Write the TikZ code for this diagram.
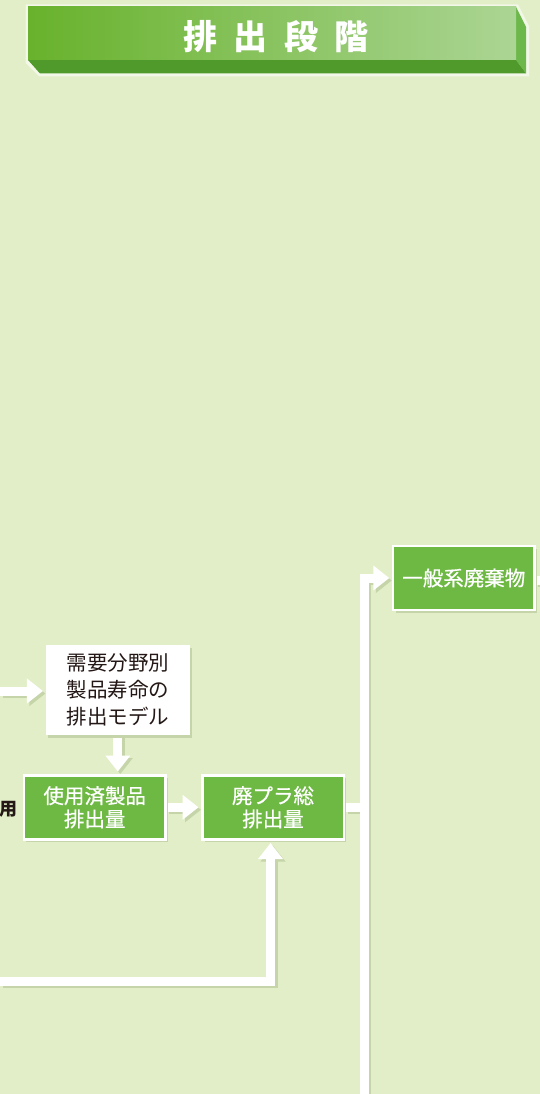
\documentclass[tikz,border=0pt]{standalone}
\usepackage{fontspec}
\newfontfamily\jp{Noto Sans CJK JP}
\newfontfamily\jpm[FakeBold=0.6]{Noto Sans CJK JP}
\usetikzlibrary{arrows.meta,shadows}
\definecolor{bgc}{HTML}{E2EEC7}
\definecolor{boxgreen}{HTML}{6EB844}
\definecolor{shadowc}{HTML}{C6D5A9}
\definecolor{bandL}{HTML}{68B22C}
\definecolor{bandM}{HTML}{78BD44}
\definecolor{bandR}{HTML}{ABD594}
\definecolor{bandBot}{HTML}{4F9A2A}
\definecolor{bandSide}{HTML}{6DB84A}
\definecolor{bandEdge}{HTML}{F2F7E8}
\definecolor{ink}{HTML}{231815}
\pgfdeclarelayer{back}
\pgfdeclarelayer{lines}
\pgfsetlayers{back,lines,main}
\tikzset{
  flow/.style={draw=white,line width=9pt,shorten >=2.5pt,-{Triangle[width=24pt,length=16pt]}},
  link/.style={draw=white,line width=9pt},
  shline/.style={preaction={draw=shadowc,line width=9pt,transform canvas={xshift=2.5pt,yshift=-2.5pt}}},
  gbox/.style={draw=white,line width=2.5pt,fill=boxgreen,inner sep=0pt,
    minimum width=141.5pt,minimum height=64pt,text=white,align=center,
    font=\jpm\fontsize{20.5}{23.3}\selectfont,
    drop shadow={shadow xshift=2.5pt,shadow yshift=-2.5pt,fill=shadowc,opacity=1}},
  wbox/.style={fill=white,inner sep=0pt,minimum width=144.3pt,minimum height=90pt,
    text=ink,align=center,font=\jp\fontsize{20.5}{26.7}\selectfont,
    drop shadow={shadow xshift=2.5pt,shadow yshift=-2.5pt,fill=shadowc,opacity=1}},
  titletext/.style={text=white,inner sep=0pt,font=\jp\bfseries\fontsize{34}{34}\selectfont},
  sidelabel/.style={text=ink,inner sep=0pt,anchor=east,font=\jp\bfseries\fontsize{18}{18}\selectfont}
}
\begin{document}
\begin{tikzpicture}[x=1pt,y=-1pt]
\begin{pgfonlayer}{back}
\fill[bgc] (0,0) rectangle (540,1094);
\end{pgfonlayer}
\useasboundingbox (0,0) rectangle (540,1094);

% title banner
\fill[bandEdge] (25.5,4.5) -- (518,4.5) -- (529,26) -- (529,76.5) -- (39,76.5) -- (25.5,63) -- cycle;
\fill[bandSide] (516,7) -- (526,27) -- (526,73.5) -- (516,60) -- cycle;
\fill[bandBot] (28,60) -- (516,60) -- (526,73.5) -- (40,73.5) -- cycle;
\shade[left color=bandL,middle color=bandM,right color=bandR] (28,7) rectangle (516,60);
\node[titletext] (title) at (276,37) {排\hspace{16.5pt}出\hspace{16.5pt}段\hspace{16.5pt}階};

% nodes
\node[gbox] (ippan) at (463.8,578) {一般系廃棄物};
\node[wbox] (juyo) at (117.8,690) {需要分野別\\製品寿命の\\排出モデル};
\node[gbox] (shiyo) at (94.7,807.3) {使用済製品\\排出量};
\node[gbox] (haipura) at (273,807.3) {廃プラ総\\排出量};
\node[sidelabel] (yo) at (17.5,809) {用};

\coordinate (vbot) at (364,1094);
\coordinate (vtop) at (364,578);
\coordinate (redge) at (540,580);
\coordinate (lin1) at (0,691);
\coordinate (lin2) at (0,981);
\coordinate (corner2) at (270.5,981);

\begin{pgfonlayer}{lines}
\draw[link,shline] (haipura.east) -- (haipura.east -| vtop);
\draw[flow,shline] (vbot) -- (vtop) -- (ippan.west);
\draw[link,shline] (ippan.east |- redge) -- (redge);
\draw[flow,shline] (lin1) -- (lin1 -| juyo.west);
\draw[flow,shline] (juyo.south) -- (juyo.south |- shiyo.north);
\draw[flow,shline] (shiyo.east) -- (haipura.west);
\draw[flow,shline] (lin2) -- (corner2) -- (corner2 |- haipura.south);
\end{pgfonlayer}
\end{tikzpicture}
\end{document}
